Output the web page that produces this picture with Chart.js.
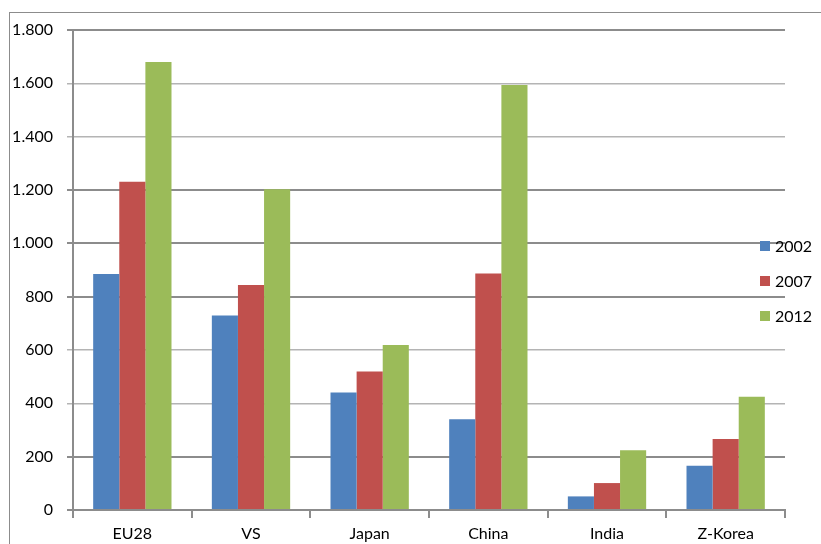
<!DOCTYPE html>
<html>
<head>
<meta charset="utf-8">
<script src="https://cdn.jsdelivr.net/npm/chart.js@4"></script>
<style>
  html, body { margin: 0; padding: 0; background: #fff; }
  #wrap { width: 821px; height: 544px; position: relative; }
</style>
</head>
<body>
<div id="wrap"><canvas id="chart"></canvas></div>
<script>
const categories = ["EU28", "VS", "Japan", "China", "India", "Z-Korea"];
const years = ["2002", "2007", "2012"];
const values2002 = [885, 729, 441, 340, 51, 166];
const values2007 = [1231, 844, 519, 887, 101, 266];
const values2012 = [1680, 1203, 619, 1594, 224, 425];
const yTickLabels = ["0", "200", "400", "600", "800", "1.000", "1.200", "1.400", "1.600", "1.800"];

const colors = ["#4F81BD", "#C0504D", "#9BBB59"];
const fontFamily = "Lato, 'Open Sans', sans-serif";

function makeDataset(label, data, color) {
  return {
    label,
    data,
    backgroundColor: color,
    borderWidth: 0,
    categoryPercentage: 0.66,
    barPercentage: 1
  };
}

// outer frame plus a legend that sits over the right end of the plot
const frameAndLegend = {
  id: "frameAndLegend",
  beforeDraw(chart) {
    let ctx = chart.ctx;
    ctx.save();
    ctx.strokeStyle = "#8c8c8c";
    ctx.lineWidth = 1;
    ctx.strokeRect(9.5, 12.5, 900, 600);
    ctx.restore();
  },
  afterDraw(chart) {
    let ctx = chart.ctx;
    ctx.save();
    ctx.font = "16px " + fontFamily;
    ctx.textBaseline = "middle";
    chart.data.datasets.forEach((ds, i) => {
      let y = 246 + i * 35;
      ctx.fillStyle = ds.backgroundColor;
      ctx.fillRect(760, y - 5, 10, 10);
      ctx.fillStyle = "#000";
      ctx.fillText(ds.label, 775, y + 1);
    });
    ctx.restore();
  }
};

let ctx = document.getElementById("chart").getContext("2d");
new Chart(ctx, {
  type: "bar",
  data: {
    labels: categories,
    datasets: [
      makeDataset(years[0], values2002, colors[0]),
      makeDataset(years[1], values2007, colors[1]),
      makeDataset(years[2], values2012, colors[2])
    ]
  },
  options: {
    responsive: true,
    maintainAspectRatio: false,
    animation: false,
    layout: { padding: { left: 0, top: 30, right: 36, bottom: 0 } },
    plugins: {
      legend: { display: false },
      tooltip: { enabled: false }
    },
    scales: {
      x: {
        afterFit(scale) { scale.height = 34; },
        border: { color: "#8c8c8c", width: 2 },
        grid: {
          offset: true,
          drawOnChartArea: false,
          drawTicks: true,
          tickLength: 8,
          color: "#8c8c8c",
          lineWidth: 2
        },
        ticks: {
          color: "#000",
          padding: 6,
          font: { family: fontFamily, size: 16 }
        }
      },
      y: {
        min: 0,
        max: 1800,
        afterFit(scale) { scale.width = 73; },
        border: { color: "#8c8c8c", width: 2 },
        grid: {
          tickLength: 6,
          color: (c) => [0, 1800, 1200, 1000, 800, 200].includes(c.tick.value) ? "#8c8c8c" : "#b4b4b4",
          lineWidth: (c) => [0, 1800, 1200, 1000, 800, 200].includes(c.tick.value) ? 2 : 1.5
        },
        ticks: {
          stepSize: 200,
          color: "#000",
          padding: 14,
          font: { family: fontFamily, size: 16 },
          callback: (v, i) => yTickLabels[i]
        }
      }
    }
  },
  plugins: [frameAndLegend]
});
</script>
</body>
</html>
